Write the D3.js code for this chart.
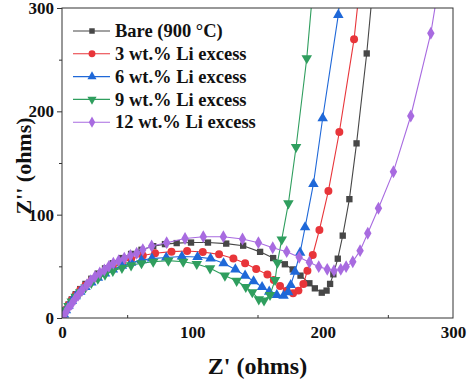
<!DOCTYPE html>
<html><head><meta charset="utf-8">
<script src="https://cdn.jsdelivr.net/npm/d3@7"></script>
<style>body{margin:0;background:#fff}svg{display:block}</style>
</head><body>
<script>
const seriesNames = ["Bare (900 °C)", "3 wt.% Li excess", "6 wt.% Li excess", "9 wt.% Li excess", "12 wt.% Li excess"];
const seriesColors = ["#474747", "#e8353a", "#1f68d8", "#2f9e5e", "#a86be0"];
const seriesSymbols = ["square", "circle", "triangle", "triangleDown", "diamond"];

const bare = [[0.5,0.5],[1.5,4],[3,8],[5,13],[7.5,18],[10.5,23],[14,28],[18,33],[22.5,38],[27.5,43],[33,48],[39,53],[46,58],[53,62],[61,66],[70,69.5],[79,71.5],[88,72.5],[99,73],[112,73],[126,72],[139,70],[152,64],[162,58],[171,52],[177,47],[183,41],[189.8,33.6],[194,28.7],[199.3,24.5],[203,26.5],[205.7,33],[208.2,42.3],[211.6,57.4],[215.4,79.7],[220.5,115],[226,169],[233.8,256],[240,340]];
const li3 = [[0.5,0.5],[1.5,4],[3,8],[5,12.5],[7.5,17.5],[10.5,22],[14,27],[18,31.5],[22.5,36],[27.5,40.5],[33,45],[39,49.5],[46,53.5],[53,57],[62,60.5],[71.4,62.6],[84,64.2],[96,64.9],[108,63.9],[120.5,61.6],[131.5,57.5],[140.5,53],[149,47.4],[157.6,42],[162.5,36.8],[167.3,31],[172.4,26.4],[177.3,23.9],[181.4,26.5],[185.2,33],[188.3,45.8],[192.4,61],[197.5,85.2],[204.4,123],[212.8,180],[224.1,269.8],[230,340]];
const li6 = [[0.5,0.5],[1.5,3.5],[3,7.5],[5,12],[7.5,16.5],[10.5,21],[14,25.5],[18,30],[22.5,34.5],[27.5,39],[33,43],[39,47],[46,50.5],[53,53.5],[61,56],[69,57.5],[80,58.5],[92,59.5],[104,59],[114,57.5],[124,53],[133,47],[140.5,41],[147,35.5],[153.5,30],[159,25.5],[164.8,22.3],[170,21.5],[173.5,25],[175.5,31.9],[178.8,44.8],[182.7,63.2],[186.5,87.8],[192.9,129.7],[200,193.3],[212,293.3],[218,380]];
const li9 = [[0.5,0.5],[1.5,3.5],[3,7.5],[5,11.5],[7.5,16],[10.5,20.5],[14,25],[18,29.5],[22.5,34],[27.5,38],[33,42],[39,45.5],[46,48.5],[53,51],[61,53],[70,54.5],[81.6,55.5],[93,54.5],[103.4,52.3],[113.6,48.1],[125,41],[134,36],[141,30],[146,25],[151,18],[155,17],[159.6,22.3],[163.5,36.8],[165.3,53.5],[168.6,76],[173.7,111],[179.6,165.5],[187.8,251.4],[194,340]];
const li12 = [[0.5,0.5],[2.3,4],[4.5,9],[7.4,13.5],[10,18.5],[12.5,22.3],[15.5,27],[19,32],[22,36],[25.3,40],[29,43.5],[32.5,46.5],[36,50],[39.4,53],[43.5,55.5],[47.8,57.8],[52.5,60.5],[57.3,62.6],[62,66],[68.8,69.7],[80.3,72.9],[94.4,77],[108.4,78.7],[123.8,78.7],[138.5,76.5],[150.7,72.9],[161.7,68],[172.4,64.2],[182,58.8],[189.8,54],[197,49.7],[203.5,47.1],[208.7,45.8],[213.9,47.1],[218,49.7],[223.1,54.5],[228.7,65.2],[234.6,82],[242.8,106.2],[254.3,141.6],[267.6,195.5],[283,275.6],[290,330]];
const allSeries = [bare, li3, li6, li9, li12];

const xTicks = [0, 100, 200, 300];
const yTicks = [0, 100, 200, 300];
const minorTicks = [50, 150, 250];

const W = 467, H = 384;
const m = {l: 62, r: 14, t: 8, b: 66};
const svg = d3.select("body").append("svg").attr("width", W).attr("height", H);
const x = d3.scaleLinear().domain([0, 300]).range([m.l, W - m.r]);
const y = d3.scaleLinear().domain([0, 300]).range([H - m.b, m.t]);
const font = "'Liberation Serif','Times New Roman',serif";

svg.append("defs").append("clipPath").attr("id", "clip")
  .append("rect").attr("x", m.l).attr("y", m.t).attr("width", x(300) - m.l).attr("height", y(0) - m.t);

const symMap = {square: d3.symbolSquare, circle: d3.symbolCircle, triangle: d3.symbolTriangle, triangleDown: d3.symbolTriangle, diamond: d3.symbolDiamond};
const symSize = {square: 40, circle: 50, triangle: 48, triangleDown: 48, diamond: 48};

const plot = svg.append("g").attr("clip-path", "url(#clip)");
const line = d3.line().x(d => x(d[0])).y(d => y(d[1]));
allSeries.forEach((data, i) => {
  const g = plot.append("g");
  g.append("path").datum(data).attr("d", line).attr("fill", "none").attr("stroke", seriesColors[i]).attr("stroke-width", 1.1);
  const s = seriesSymbols[i];
  g.selectAll("path.pt").data(data).join("path").attr("class", "pt")
    .attr("d", d3.symbol().type(symMap[s]).size(symSize[s]))
    .attr("transform", d => `translate(${x(d[0])},${y(d[1])})` + (s === "triangleDown" ? " rotate(180)" : ""))
    .attr("fill", seriesColors[i]);
});

// frame
svg.append("rect").attr("x", m.l).attr("y", m.t).attr("width", x(300) - m.l).attr("height", y(0) - m.t)
  .attr("fill", "none").attr("stroke", "#333").attr("stroke-width", 1);

// axes
const xAxis = svg.append("g").attr("transform", `translate(0,${y(0)})`)
  .call(d3.axisBottom(x).tickValues(xTicks).tickSize(0).tickPadding(8));
xAxis.select(".domain").remove();
xAxis.selectAll("text").attr("font-family", font).attr("font-weight", "bold").attr("font-size", 17).attr("fill", "#111");
svg.append("g").attr("transform", `translate(0,${y(0)})`)
  .call(d3.axisTop(x).tickValues(minorTicks).tickSize(3).tickFormat(""))
  .call(g => g.select(".domain").remove()).selectAll("line").attr("stroke", "#333");

const yAxis = svg.append("g").attr("transform", `translate(${m.l},0)`)
  .call(d3.axisLeft(y).tickValues(yTicks).tickSize(5).tickPadding(3));
yAxis.select(".domain").remove();
yAxis.selectAll("line").attr("stroke", "#333");
yAxis.selectAll("text").attr("font-family", font).attr("font-weight", "bold").attr("font-size", 17).attr("fill", "#111");
svg.append("g").attr("transform", `translate(${m.l},0)`)
  .call(d3.axisLeft(y).tickValues(minorTicks).tickSize(3).tickFormat(""))
  .call(g => g.select(".domain").remove()).selectAll("line").attr("stroke", "#333");

// titles
svg.append("text").attr("x", (x(0) + x(300)) / 2).attr("y", 374).attr("text-anchor", "middle")
  .attr("font-family", font).attr("font-weight", "bold").attr("font-size", 24).attr("fill", "#111").text("Z' (ohms)");
svg.append("text").attr("transform", `translate(31,166) rotate(-90)`).attr("text-anchor", "middle")
  .attr("font-family", font).attr("font-weight", "bold").attr("font-size", 22).attr("fill", "#111").text("Z'' (ohms)");

// legend
const leg = svg.append("g");
seriesNames.forEach((name, i) => {
  const ly = 31 + i * 22.8;
  leg.append("line").attr("x1", 73).attr("x2", 110).attr("y1", ly).attr("y2", ly).attr("stroke", seriesColors[i]).attr("stroke-width", 1.1);
  const s = seriesSymbols[i];
  leg.append("path").attr("d", d3.symbol().type(symMap[s]).size(symSize[s] * 0.75))
    .attr("transform", `translate(92,${ly})` + (s === "triangleDown" ? " rotate(180)" : "")).attr("fill", seriesColors[i]);
  leg.append("text").attr("x", 115).attr("y", ly).attr("dy", "0.34em")
    .attr("font-family", font).attr("font-weight", "bold").attr("font-size", 18.5).attr("fill", "#111").text(name);
});
</script>
</body></html>
